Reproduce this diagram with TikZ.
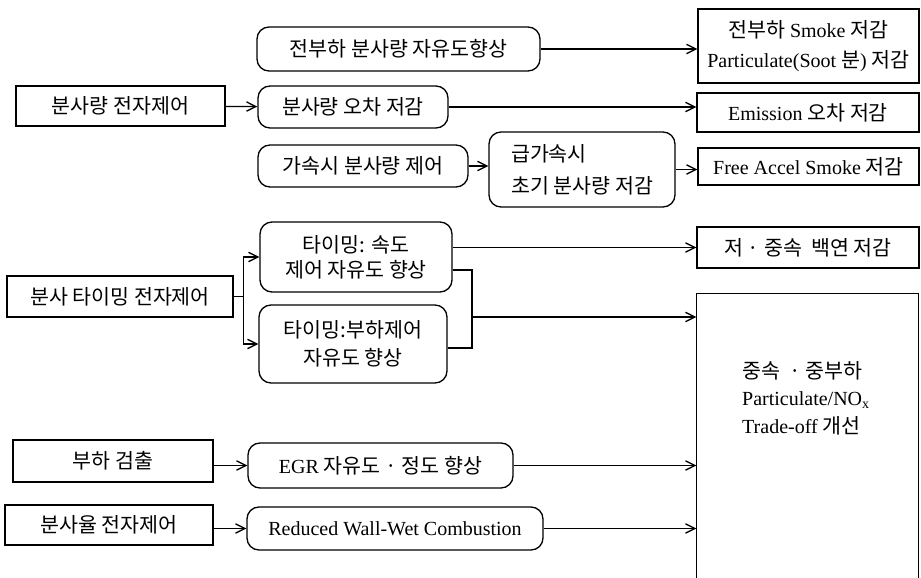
\documentclass[tikz,border=0pt]{standalone}
\usepackage{fontspec}
\setmainfont{Liberation Serif}
\newfontfamily\kr[Scale=1.03]{Noto Sans CJK KR}
\usetikzlibrary{arrows.meta}

\tikzset{every picture/.style={line width=1pt}}
\tikzset{
  box/.style={draw, rectangle, inner sep=0pt, align=center, font=\fontsize{15}{20}\selectfont},
  rbox/.style={box, rounded corners=9pt},
  arr/.style={-{Straight Barb[length=7pt,width=7pt]}},
}

\begin{document}
\begin{tikzpicture}[x=0.75pt,y=0.75pt,yscale=-1,xscale=1]
\useasboundingbox (0,0) rectangle (921,578);

%Shape: Rectangle [inputs]
\node [box, minimum width=156.75pt, minimum height=30pt] (inj) at (120.5,106) {\kr 분사량 전자제어};
\node [box, minimum width=169.5pt, minimum height=30.75pt] (timing) at (120,296.5) {\kr 분사 타이밍 전자제어};
\node [box, minimum width=150pt, minimum height=31.5pt] (load) at (113,461) {\kr 부하 검출};
\node [box, minimum width=156pt, minimum height=30pt] (rate) at (109,525) {\kr 분사율 전자제어};

%Shape: Rounded Rectangle [effects]
\node [rbox, minimum width=212.25pt, minimum height=33pt] (full) at (398.5,49) {\kr 전부하 분사량 자유도향상};
\node [rbox, minimum width=142.5pt, minimum height=31.5pt] (err) at (353,107) {\kr 분사량 오차 저감};
\node [rbox, minimum width=157.5pt, minimum height=31.5pt] (accel) at (363,166) {\kr 가속시 분사량 제어};
\node [rbox, minimum width=139.5pt, minimum height=56.25pt, align=left, font=\fontsize{15}{24}\selectfont] (rapid) at (582,169.5) {\kr 급가속시\\\kr 초기 분사량 저감};
\node [rbox, minimum width=144pt, minimum height=52.5pt, font=\fontsize{15}{19}\selectfont] (tspd) at (356,257) {\kr 타이밍: 속도\\\kr 제어 자유도 향상};
\node [rbox, minimum width=141pt, minimum height=58.5pt, font=\fontsize{15}{21}\selectfont] (tload) at (353,344) {\kr 타이밍:부하제어\\\kr 자유도 향상};
\node [rbox, minimum width=198.75pt, minimum height=33.75pt] (egr) at (380.5,465.5) {EGR \kr 자유도 · 정도 향상};
\node [rbox, minimum width=222pt, minimum height=32.25pt] (wall) at (395,528.5) {Reduced Wall-Wet Combustion};

%Shape: Rectangle [results]
\node [box, minimum width=165.75pt, minimum height=55.5pt, font=\fontsize{15}{22}\selectfont] (smoke) at (808.5,46) {\kr 전부하 \rmfamily Smoke \kr 저감\\Particulate(Soot \kr 분\rmfamily) \kr 저감};
\node [box, minimum width=166.5pt, minimum height=29.25pt] (emis) at (808,112.5) {Emission \kr 오차 저감};
\node [box, minimum width=165.75pt, minimum height=27.75pt] (free) at (808.5,166.5) {Free Accel Smoke \kr 저감};
\node [box, minimum width=166.5pt, minimum height=30.75pt] (white) at (808,247.5) {\kr 저 · 중속~~백연 저감};
\node [minimum width=165.75pt, minimum height=213pt, inner sep=0pt] (big) at (807.5,436) {};
\draw (big.south west) |- (big.north east) -- (big.south east);
\node [align=left, font=\fontsize{15}{20.6}\selectfont] (bigtxt) at (806,398) {\kr 중속~~· 중부하\\Particulate/NO\textsubscript{x}\\Trade-off \kr 개선};

%Straight Lines
\draw [arr] (inj) -- (err);
\draw [arr] (full.east) -- (full.east -| smoke.west);
\draw [arr] (err.east) -- (err.east -| emis.west);
\draw [arr] (accel.east) -- (accel.east -| rapid.west);
\draw [arr] (rapid.east) -- (rapid.east -| free.west);
%Branch
\draw (timing.east) -- ++(10,0) coordinate (br);
\draw [arr] (br) |- (tspd.west);
\draw [arr] (br) |- (tload.west);
\draw [arr] (tspd.east |- white.west) -- (white.west);
%Bracket
\draw (tspd.east |- 0,270) -- (472,270) -- (472,348) -- (tload.east |- 0,348);
\coordinate (jn) at (472,317);
\draw [arr] (jn) -- (jn -| big.west);
\draw [arr] (load.east |- egr.west) -- (egr.west);
\draw [arr] (egr.east) -- (egr.east -| big.west);
\draw [arr] (rate.east |- wall.west) -- (wall.west);
\draw [arr] (wall.east) -- (wall.east -| big.west);

\end{tikzpicture}
\end{document}
